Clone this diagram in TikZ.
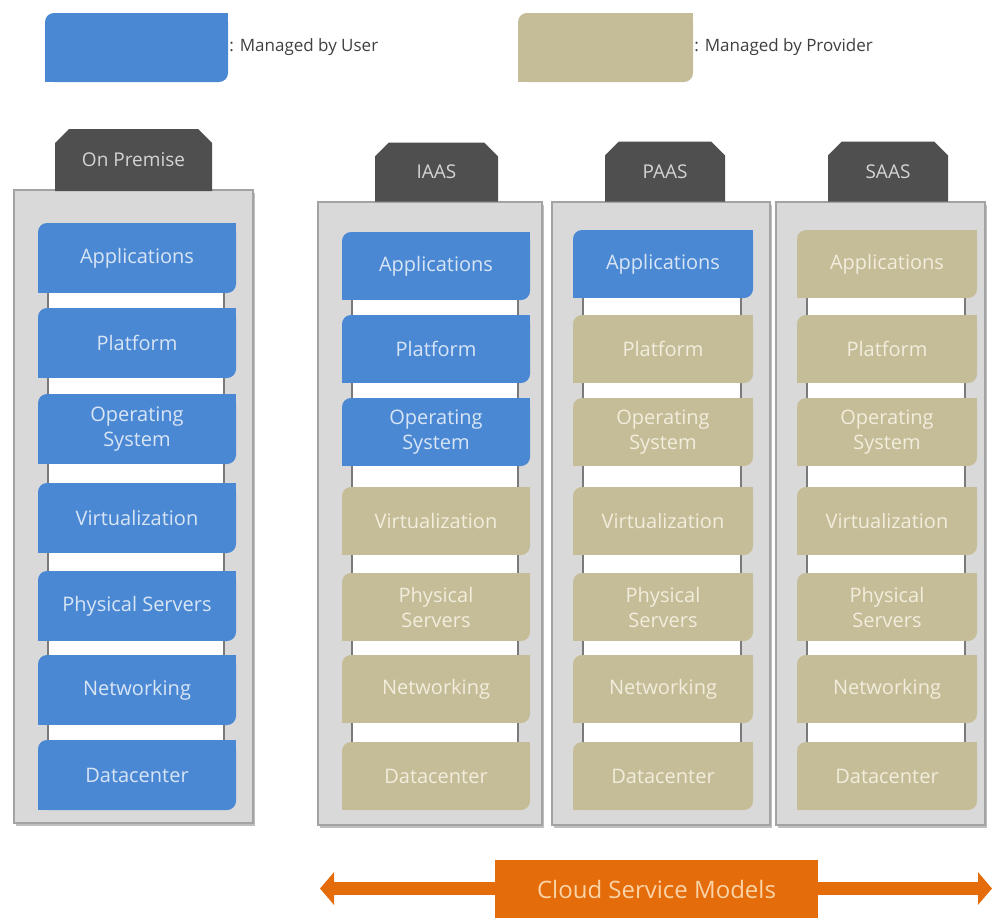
\documentclass[tikz,border=0pt]{standalone}
\usepackage{fontspec}
\setmainfont{Open Sans}
\usetikzlibrary{calc,arrows.meta,shapes.misc,shadows}
\definecolor{userblue}{HTML}{4A88D4}
\definecolor{provtan}{HTML}{C4BD97}
\definecolor{usertext}{HTML}{D8E5F5}
\definecolor{provtext}{HTML}{F2EDDD}
\definecolor{tabgray}{HTML}{4F4F4F}
\definecolor{tabtext}{HTML}{D4D4D4}
\definecolor{panelgray}{HTML}{D9D9D9}
\definecolor{paneledge}{HTML}{A3A3A3}
\definecolor{gapedge}{HTML}{7A7A7A}
\definecolor{legtext}{HTML}{404040}
\definecolor{orangec}{HTML}{E46C0A}
\definecolor{orangetext}{HTML}{FBD3A6}
\newcommand{\bxfont}{\fontsize{20}{25}\selectfont}
\begin{document}
\begin{tikzpicture}[x=1pt,y=-1pt,
  panelbox/.style={rectangle, fill=panelgray, draw=paneledge, line width=1.6pt, inner sep=0pt,
    drop shadow={shadow xshift=1.5pt, shadow yshift=-2.5pt, fill=black!50, opacity=0.5}},
  tabbox/.style={chamfered rectangle, chamfered rectangle corners={north west,north east},
    chamfered rectangle xsep=7pt, chamfered rectangle ysep=7pt,
    fill=tabgray, text=tabtext, inner sep=0pt, font=\fontsize{19}{22}\selectfont},
  stackbox/.style={rectangle, rounded corners=9pt, inner sep=0pt, align=center, font=\bxfont},
  legbox/.style={rectangle, rounded corners=9pt, inner sep=0pt, minimum height=69pt},
  legtxt/.style={anchor=west, inner sep=1pt, text=legtext, font=\fontsize{17}{20}\selectfont},
  gapbar/.style={fill=white},
  gapside/.style={draw=gapedge, line width=1.8pt},
  cloudarrow/.style={draw=orangec, line width=13pt,
    {Triangle[length=14pt,width=32pt]}-{Triangle[length=14pt,width=32pt]}},
  cloudbox/.style={rectangle, fill=orangec, text=orangetext, inner sep=0pt,
    minimum width=323pt, minimum height=58pt, font=\fontsize{24}{28}\selectfont}
]
\useasboundingbox (0,0) rectangle (993,918);
\fill[white] (0,0) rectangle (993,918);

% legend
\node[legbox, fill=userblue, minimum width=183pt] (leguser) at (136.5,47.5) {};
\fill[userblue] (leguser.north east) rectangle ++(-10,10);
\fill[userblue] (leguser.south west) rectangle ++(10,-10);
\node[legtxt] (legusertxt) at (leguser.east) {: Managed by User};
\node[legbox, fill=provtan, minimum width=175pt] (legprov) at (605.5,47.5) {};
\fill[provtan] (legprov.north east) rectangle ++(-10,10);
\fill[provtan] (legprov.south west) rectangle ++(10,-10);
\node[legtxt] (legprovtxt) at (legprov.east) {: Managed by Provider};

% panels
\node[panelbox, minimum width=239pt, minimum height=633pt] (oppanel) at (133.5,506.5) {};
\node[panelbox, minimum width=224pt, minimum height=623pt] (iapanel) at (430,513.5) {};
\node[panelbox, minimum width=218pt, minimum height=623pt] (papanel) at (661,513.5) {};
\node[panelbox, minimum width=209pt, minimum height=623pt] (sapanel) at (880.5,513.5) {};

% tabs
\node[tabbox, minimum width=157pt, minimum height=62pt] (optab) at (133.5,160) {On Premise};
\node[tabbox, minimum width=123pt, minimum height=59pt] (iatab) at (436.5,172) {IAAS};
\node[tabbox, minimum width=120pt, minimum height=60pt] (patab) at (665,171.5) {PAAS};
\node[tabbox, minimum width=120pt, minimum height=60pt] (satab) at (888,171.5) {SAAS};

% On Premise stack
\foreach \i/\t/\y/\fc/\tc in {
  1/Applications/258/userblue/usertext,
  2/Platform/343/userblue/usertext,
  3/{Operating\\System}/429/userblue/usertext,
  4/Virtualization/518/userblue/usertext,
  5/Physical Servers/606/userblue/usertext,
  6/Networking/690/userblue/usertext,
  7/Datacenter/775/userblue/usertext}{
  \node[stackbox, fill=\fc, text=\tc, minimum width=198pt, minimum height=70pt] (op\i) at (137,\y) {\t};
  \fill[\fc] (op\i.north east) rectangle ++(-10,10);
  \fill[\fc] (op\i.south west) rectangle ++(10,-10);
}

% IAAS stack
\foreach \i/\t/\y/\fc/\tc in {
  1/Applications/266/userblue/usertext,
  2/Platform/349/userblue/usertext,
  3/{Operating\\System}/432/userblue/usertext,
  4/Virtualization/521/provtan/provtext,
  5/{Physical\\Servers}/607/provtan/provtext,
  6/Networking/689/provtan/provtext,
  7/Datacenter/776/provtan/provtext}{
  \node[stackbox, fill=\fc, text=\tc, minimum width=188pt, minimum height=68pt] (ia\i) at (436,\y) {\t};
  \fill[\fc] (ia\i.north east) rectangle ++(-10,10);
  \fill[\fc] (ia\i.south west) rectangle ++(10,-10);
}

% PAAS stack
\foreach \i/\t/\y/\fc/\tc in {
  1/Applications/264/userblue/usertext,
  2/Platform/349/provtan/provtext,
  3/{Operating\\System}/432/provtan/provtext,
  4/Virtualization/521/provtan/provtext,
  5/{Physical\\Servers}/607/provtan/provtext,
  6/Networking/689/provtan/provtext,
  7/Datacenter/776/provtan/provtext}{
  \node[stackbox, fill=\fc, text=\tc, minimum width=180pt, minimum height=68pt] (pa\i) at (663,\y) {\t};
  \fill[\fc] (pa\i.north east) rectangle ++(-10,10);
  \fill[\fc] (pa\i.south west) rectangle ++(10,-10);
}

% SAAS stack
\foreach \i/\t/\y/\fc/\tc in {
  1/Applications/264/provtan/provtext,
  2/Platform/349/provtan/provtext,
  3/{Operating\\System}/432/provtan/provtext,
  4/Virtualization/521/provtan/provtext,
  5/{Physical\\Servers}/607/provtan/provtext,
  6/Networking/689/provtan/provtext,
  7/Datacenter/776/provtan/provtext}{
  \node[stackbox, fill=\fc, text=\tc, minimum width=180pt, minimum height=68pt] (sa\i) at (887,\y) {\t};
  \fill[\fc] (sa\i.north east) rectangle ++(-10,10);
  \fill[\fc] (sa\i.south west) rectangle ++(10,-10);
}

% gap bars between stacked boxes
\foreach \p in {op,ia,pa,sa}{
  \foreach \a/\b in {1/2,2/3,3/4,4/5,5/6,6/7}{
    \fill[gapbar] ($(\p\a.south west)+(10,0)$) rectangle ($(\p\b.north east)+(-12,0)$);
    \draw[gapside] ($(\p\a.south west)+(10,0)$) -- ($(\p\b.north west)+(10,0)$);
    \draw[gapside] ($(\p\a.south east)+(-12,0)$) -- ($(\p\b.north east)+(-12,0)$);
  }
}

% cloud service models arrow
\coordinate (arrl) at (320,888.5);
\coordinate (arrr) at (992,888.5);
\draw[cloudarrow] (arrl) -- (arrr);
\node[cloudbox] (csm) at (656.5,889) {Cloud Service Models};
\end{tikzpicture}
\end{document}
